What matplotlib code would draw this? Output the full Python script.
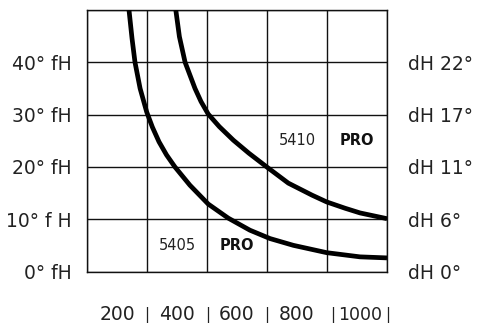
import matplotlib
matplotlib.use("Agg")
import matplotlib.pyplot as plt
from matplotlib.transforms import blended_transform_factory

# data (x: flow, y: hardness in fH)
x_5405 = [140, 150, 160, 177, 199, 218, 240, 265, 293, 343, 404, 471, 543, 610, 688, 799, 910, 1000]
y_5405 = [50, 44.6, 40, 35, 30.5, 27.6, 24.8, 22.3, 20, 16.5, 12.9, 10.2, 7.9, 6.3, 5.0, 3.6, 2.8, 2.6]
x_5410 = [296, 308, 327, 360, 380, 404, 441, 488, 540, 599, 671, 750, 799, 860, 910, 1000]
y_5410 = [50, 44.9, 40, 35, 32.5, 30.1, 27.7, 25.1, 22.6, 20.0, 16.9, 14.6, 13.3, 12.1, 11.2, 10.1]

left_labels = ["0° fH", "10° f H", "20° fH", "30° fH", "40° fH"]
right_labels = ["dH 0°", "dH 6°", "dH 11°", "dH 17°", "dH 22°"]
y_ticks = [0, 10, 20, 30, 40]
x_grid = [0, 200, 400, 600, 800, 1000]
x_labels = ["200", "400", "600", "800", "1000"]
x_label_pos = [100, 300, 500, 700, 912]
x_bar_pos = [200, 403, 600, 820, 1003]

font = "DejaVu Sans"
tc = "#222222"
fig = plt.figure(figsize=(4.79, 3.23), dpi=100)
ax = fig.add_axes([87/479, 1-271.5/323, 300/479, 261.5/323])
ax.set_xlim(0, 1000)
ax.set_ylim(0, 50)

for xv in x_grid:
    ax.axvline(xv, color="#111111", lw=1.0, zorder=1)
for yv in y_ticks + [50]:
    ax.axhline(yv, color="#111111", lw=1.0, zorder=1)
for s in ax.spines.values():
    s.set_linewidth(1.0)
    s.set_color("#111111")

ax.plot(x_5405, y_5405, color="black", lw=3.4, solid_capstyle="butt", solid_joinstyle="round", zorder=3)
ax.plot(x_5410, y_5410, color="black", lw=3.4, solid_capstyle="butt", solid_joinstyle="round", zorder=3)

ax.set_xticks([])
ax.set_yticks(y_ticks)
ax.set_yticklabels(left_labels, fontsize=13.5, family=font, color=tc)
ax.tick_params(axis="y", length=0, pad=11)

ax2 = ax.twinx()
ax2.set_ylim(0, 50)
ax2.set_yticks(y_ticks)
ax2.set_yticklabels(right_labels, fontsize=13.5, family=font, color=tc)
ax2.tick_params(axis="y", length=0, pad=15)
for s in ax2.spines.values():
    s.set_visible(False)

ax.text(300, 5, "5405", ha="center", va="center", fontsize=10.5, family=font, color=tc)
ax.text(500, 5, "PRO", ha="center", va="center", fontsize=10.5, family=font, weight="bold", color="#111111")
ax.text(700, 25, "5410", ha="center", va="center", fontsize=10.5, family=font, color=tc)
ax.text(900, 25, "PRO", ha="center", va="center", fontsize=10.5, family=font, weight="bold", color="#111111")

tr = blended_transform_factory(ax.transData, fig.transFigure)
yb = 1 - 315/323
for lab, xp in zip(x_labels, x_label_pos):
    fs = 12.5 if lab == "1000" else 13.5
    ax.text(xp, yb, lab, transform=tr, ha="center", va="center", fontsize=fs, family=font, color=tc, clip_on=False)
for xp in x_bar_pos:
    ax.text(xp, yb, "|", transform=tr, ha="center", va="center", fontsize=11, family=font, color=tc, clip_on=False)

fig.savefig("out.png", dpi=100)
